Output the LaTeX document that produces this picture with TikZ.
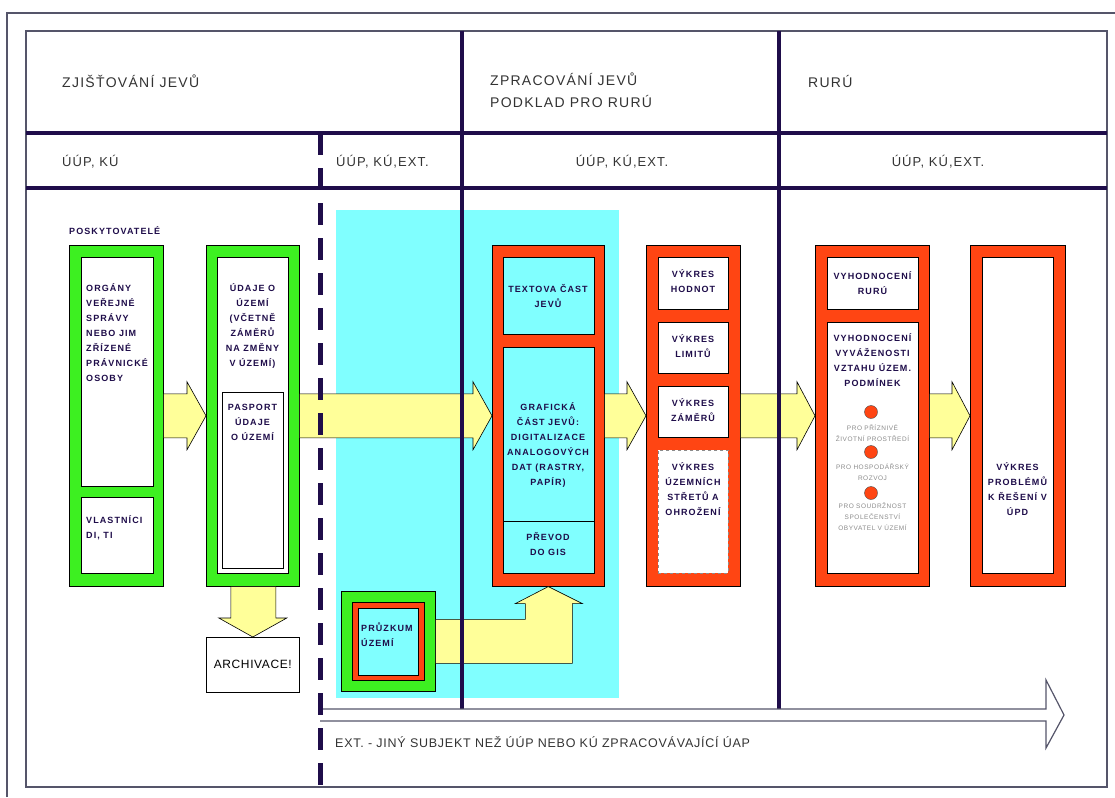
\documentclass[tikz,border=0pt]{standalone}
\usepackage{fontspec}
\setmainfont{Liberation Sans}
\usetikzlibrary{positioning,calc}

\definecolor{navy}{HTML}{1F0D4A}
\definecolor{framegray}{HTML}{55556A}
\definecolor{boxgreen}{HTML}{3DF021}
\definecolor{boxred}{HTML}{FF4513}
\definecolor{aqua}{HTML}{80FFFF}
\definecolor{pale}{HTML}{FFFF99}

\begin{document}
\begin{tikzpicture}[x=1pt, y=-1pt,
    thinline/.style={draw=framegray, line width=1.2pt},
    tabline/.style={draw=navy, line width=4pt},
    gbox/.style={draw=black, fill=boxgreen, line width=0.6pt, anchor=north west, inner sep=0pt},
    rbox/.style={draw=black, fill=boxred, line width=0.6pt, anchor=north west, inner sep=0pt},
    cell/.style={draw=black, fill=white, line width=0.6pt, anchor=north west, inner sep=0pt},
    aquacell/.style={cell, fill=aqua},
    head/.style={font=\fontsize{13}{22}\selectfont\addfontfeature{LetterSpace=8}, text=black!80, inner sep=0pt},
    bighead/.style={head, font=\fontsize{14}{22}\selectfont\addfontfeature{LetterSpace=9}},
    txt/.style={font=\fontsize{9}{15}\selectfont\bfseries\addfontfeature{LetterSpace=12}, text=navy, align=center, inner sep=0pt},
    greytxt/.style={font=\fontsize{6.5}{11}\selectfont\addfontfeature{LetterSpace=8}, text=black!45, align=center, inner sep=0pt},
    yarrow/.style={draw=black, fill=pale, line width=0.6pt, line join=miter},
    dot/.style={circle, draw=black!70, fill=boxred, minimum size=13pt, inner sep=0pt}
]
\useasboundingbox (0,0) rectangle (1115,797);

% Cyan background
\fill[aqua] (336,210) rectangle (619,698);

% Headers
\node[bighead, anchor=west] (hzj) at (62,81) {ZJIŠŤOVÁNÍ JEVŮ};
\node[bighead, anchor=west, align=left] (hzp) at (490,90) {ZPRACOVÁNÍ JEVŮ\\PODKLAD PRO RURÚ};
\node[bighead, anchor=west] (hru) at (808,81) {RURÚ};
\node[head, anchor=west] (ra) at (62,162) {ÚÚP, KÚ};
\node[head, anchor=west] (rb) at (336,162) {ÚÚP, KÚ,EXT.};
\node[head] (rc) at (622,162) {ÚÚP, KÚ,EXT.};
\node[head] (rd) at (938,162) {ÚÚP, KÚ,EXT.};

% Providers
\node[txt, anchor=west] (posk) at (69,231) {POSKYTOVATELÉ};
\node[gbox, minimum width=94pt, minimum height=341pt] (prov) at (69,245) {};
\node[cell, minimum width=72pt, minimum height=229pt] (provtop) at (81,257) {};
\node[cell, minimum width=72pt, minimum height=76pt] (provbot) at (81,497) {};
\node[txt, align=left, anchor=west] at (86,333) {ORGÁNY\\VEŘEJNÉ\\SPRÁVY\\NEBO JIM\\ZŘÍZENÉ\\PRÁVNICKÉ\\OSOBY};
\node[txt, align=left, anchor=west] at (86,528) {VLASTNÍCI\\DI, TI};

% Data about territory
\node[gbox, minimum width=93pt, minimum height=341pt] (udaje) at (206,245) {};
\node[cell, minimum width=71pt, minimum height=316pt] (udajecell) at (217,257) {};
\node[cell, minimum width=61pt, minimum height=176pt] (pasport) at (222,392) {};
\node[txt] at (252.5,325.5) {ÚDAJE O\\ÚZEMÍ\\(VČETNĚ\\ZÁMĚRŮ\\NA ZMĚNY\\V ÚZEMÍ)};
\node[txt] at (252.5,422) {PASPORT\\ÚDAJE\\O ÚZEMÍ};

% Archive
\node[cell, minimum width=93pt, minimum height=55pt, font=\fontsize{12}{14}\selectfont\addfontfeature{LetterSpace=5}] (archiv) at (206,637) {ARCHIVACE!};

% Survey
\node[gbox, minimum width=94pt, minimum height=100pt] (pruz) at (341,591) {};
\node[rbox, minimum width=72pt, minimum height=78pt] (pruzred) at (352,602) {};
\node[aquacell, minimum width=60pt, minimum height=67pt] (pruzcell) at (358,608) {};
\node[txt, align=left, anchor=west] at (361,634.5) {PRŮZKUM\\ÚZEMÍ};

% Processing
\node[rbox, minimum width=112pt, minimum height=341pt] (graf) at (492,245) {};
\node[aquacell, minimum width=91pt, minimum height=77pt] (textcell) at (503,257) {};
\node[aquacell, minimum width=91pt, minimum height=226pt] (grafcell) at (503,347) {};
\draw[black, line width=0.6pt] (grafcell.west |- 0,521) -- (grafcell.east |- 0,521);
\node[txt] at (548,296) {TEXTOVA ČAST\\JEVŮ};
\node[txt] at (548,445) {GRAFICKÁ\\ČÁST JEVŮ:\\DIGITALIZACE\\ANALOGOVÝCH\\DAT (RASTRY,\\PAPÍR)};
\node[txt] at (548,544.5) {PŘEVOD\\DO GIS};

% Drawings
\node[rbox, minimum width=94pt, minimum height=341pt] (vykresy) at (646,245) {};
\node[cell, minimum width=70pt, minimum height=52pt] (hodnot) at (658,257) {};
\node[cell, minimum width=70pt, minimum height=51pt] (limit) at (658,322) {};
\node[cell, minimum width=70pt, minimum height=51pt] (zamer) at (658,386) {};
\node[cell, draw=black!45, dashed, minimum width=70pt, minimum height=123pt] (stret) at (658,450) {};
\node[txt] at (693,281) {VÝKRES\\HODNOT};
\node[txt] at (693,346) {VÝKRES\\LIMITŮ};
\node[txt] at (693,410) {VÝKRES\\ZÁMĚRŮ};
\node[txt] at (693,489.5) {VÝKRES\\ÚZEMNÍCH\\STŘETŮ A\\OHROŽENÍ};

% Evaluation
\node[rbox, minimum width=114pt, minimum height=341pt] (hodnoc) at (815,245) {};
\node[cell, minimum width=91pt, minimum height=52pt] (rurucell) at (827,257) {};
\node[cell, minimum width=91pt, minimum height=251pt] (vyvcell) at (827,322) {};
\node[txt] at (872.5,283) {VYHODNOCENÍ\\RURÚ};
\node[txt] at (872.5,360) {VYHODNOCENÍ\\VYVÁŽENOSTI\\VZTAHU ÚZEM.\\PODMÍNEK};
\node[dot] (d1) at (871,412) {};
\node[dot] (d2) at (871,452) {};
\node[dot] (d3) at (871,493) {};
\node[greytxt] at (872.5,433) {PRO PŘÍZNIVÉ\\ŽIVOTNÍ PROSTŘEDÍ};
\node[greytxt] at (872.5,472) {PRO HOSPODÁŘSKÝ\\ROZVOJ};
\node[greytxt] at (872.5,517) {PRO SOUDRŽNOST\\SPOLEČENSTVÍ\\OBYVATEL V ÚZEMÍ};

% Problems
\node[rbox, minimum width=95pt, minimum height=341pt] (probl) at (970,245) {};
\node[cell, minimum width=71pt, minimum height=316pt] (problcell) at (982,257) {};
\node[txt] at (1017.5,489.5) {VÝKRES\\PROBLÉMŮ\\K ŘEŠENÍ V\\ÚPD};

% Block arrows
\draw[yarrow] let \p1=(prov.east), \p2=(udaje.west) in
    (\x1,\y1+22pt) -- (\x2-19pt,\y1+22pt) -- (\x2-19pt,\y1+34pt) -- (\x2,\y1)
    -- (\x2-19pt,\y1-34pt) -- (\x2-19pt,\y1-22pt) -- (\x1,\y1-22pt) -- cycle;
\draw[yarrow] let \p1=(udaje.east), \p2=(graf.west) in
    (\x1,\y1+22pt) -- (\x2-19pt,\y1+22pt) -- (\x2-19pt,\y1+34pt) -- (\x2,\y1)
    -- (\x2-19pt,\y1-34pt) -- (\x2-19pt,\y1-22pt) -- (\x1,\y1-22pt) -- cycle;
\draw[yarrow] let \p1=(graf.east), \p2=(vykresy.west) in
    (\x1,\y1+22pt) -- (\x2-19pt,\y1+22pt) -- (\x2-19pt,\y1+34pt) -- (\x2,\y1)
    -- (\x2-19pt,\y1-34pt) -- (\x2-19pt,\y1-22pt) -- (\x1,\y1-22pt) -- cycle;
\draw[yarrow] let \p1=(vykresy.east), \p2=(hodnoc.west) in
    (\x1,\y1+22pt) -- (\x2-18pt,\y1+22pt) -- (\x2-18pt,\y1+34pt) -- (\x2,\y1)
    -- (\x2-18pt,\y1-34pt) -- (\x2-18pt,\y1-22pt) -- (\x1,\y1-22pt) -- cycle;
\draw[yarrow] let \p1=(hodnoc.east), \p2=(probl.west) in
    (\x1,\y1+22pt) -- (\x2-18pt,\y1+22pt) -- (\x2-18pt,\y1+34pt) -- (\x2,\y1)
    -- (\x2-18pt,\y1-34pt) -- (\x2-18pt,\y1-22pt) -- (\x1,\y1-22pt) -- cycle;

% Down to archive
\draw[yarrow] let \p1=(udaje.south), \p2=(archiv.north) in
    (\x1-22pt,\y1) -- (\x1-22pt,\y2+19pt) -- (\x1-34pt,\y2+19pt) -- (\x2,\y2)
    -- (\x1+34pt,\y2+19pt) -- (\x1+23pt,\y2+19pt) -- (\x1+23pt,\y1) -- cycle;

% Survey up to processing
\draw[yarrow] let \p1=(pruz.east), \p2=(graf.south) in
    (\x1,\y1+22pt) -- (\x2-23pt,\y1+22pt) -- (\x2-23pt,\y2-17pt) -- (\x2-33pt,\y2-17pt)
    -- (\x2,\y2) -- (\x2+34pt,\y2-17pt) -- (\x2+24pt,\y2-17pt) -- (\x2+24pt,\y1-22pt)
    -- (\x1,\y1-22pt) -- cycle;

% Table
\draw[thinline] (7,797) -- (7,13) -- (1115,13);
\draw[thinline] (26,31) rectangle (1107,787);
\draw[tabline] (26,133) -- (1107,133);
\draw[tabline] (26,188) -- (1107,188);
\draw[tabline] (462,31) -- (462,709);
\draw[tabline] (779,31) -- (779,709);

% EXT arrow
\coordinate (extstart) at (320,715);
\coordinate (extend) at (1064,715);
\draw[framegray, line width=1.2pt, line join=miter] let \p1=(extstart), \p2=(extend) in
    (\x1,\y1+6pt) -- (\x2-18pt,\y1+6pt) -- (\x2-18pt,\y1+35pt) -- (\x2,\y1)
    -- (\x2-18pt,\y1-33pt) -- (\x2-18pt,\y1-6pt) -- (\x1,\y1-6pt);
\node[head, anchor=west, font=\fontsize{12.5}{14}\selectfont\addfontfeature{LetterSpace=6}] (ext) at (335,742) {EXT. - JINÝ SUBJEKT NEŽ ÚÚP NEBO KÚ ZPRACOVÁVAJÍCÍ ÚAP};

% Dashed divider
\draw[navy, line width=5pt, dash pattern=on 22pt off 13pt] (320,133) -- (320,787);

\end{tikzpicture}
\end{document}
